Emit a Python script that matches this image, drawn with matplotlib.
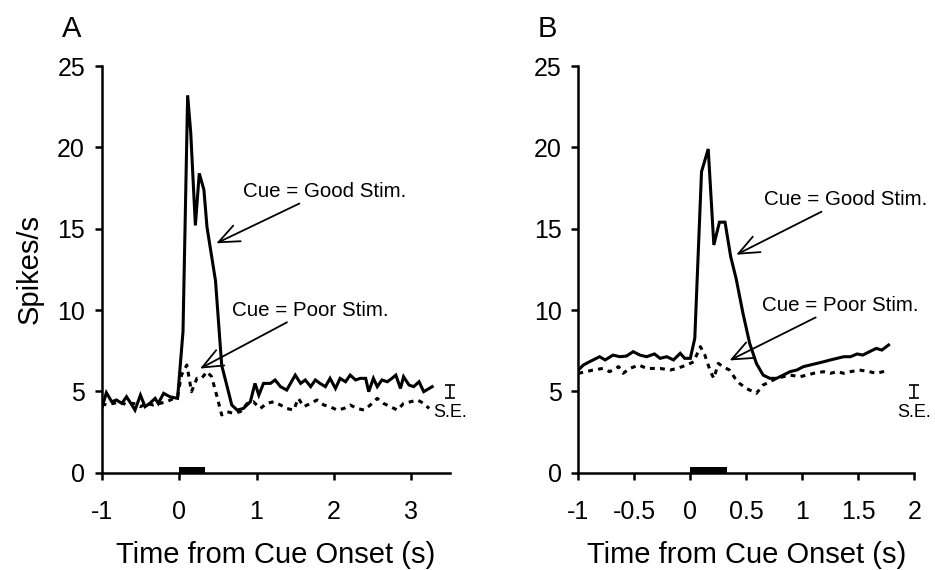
#!/usr/bin/python3
# coding: utf-8

import matplotlib
matplotlib.use('Agg')
import matplotlib.pyplot as plt

# ---- data ----
# panel A, x in s, y in spikes/s
good_a_t = [-1.00, -0.94, -0.87, -0.81, -0.74, -0.68, -0.61, -0.57, -0.50, -0.44, -0.38, -0.31,
            -0.27, -0.20, -0.12, -0.02, 0.05, 0.11, 0.15, 0.21, 0.26, 0.32, 0.36, 0.40, 0.47,
            0.55, 0.62, 0.68, 0.75, 0.83, 0.92, 0.98, 1.03, 1.09, 1.18, 1.24, 1.31, 1.39, 1.50,
            1.57, 1.63, 1.70, 1.76, 1.82, 1.89, 1.95, 2.02, 2.08, 2.15, 2.21, 2.28, 2.34, 2.41,
            2.45, 2.51, 2.56, 2.62, 2.69, 2.75, 2.80, 2.86, 2.90, 2.97, 3.03, 3.10, 3.16, 3.27]
good_a_v = [3.95, 4.92, 4.36, 4.47, 4.26, 4.67, 4.16, 3.85, 4.77, 4.06, 4.26, 4.57,
            4.26, 4.88, 4.67, 4.57, 8.67, 23.2, 20.9, 15.2, 18.4, 17.4, 15.1, 13.9, 11.8,
            6.6, 5.3, 4.16, 3.85, 3.95, 4.36, 5.49, 4.77, 5.49, 5.49, 5.70, 5.29, 5.08, 6.00,
            5.49, 5.70, 5.29, 5.70, 5.49, 5.29, 5.80, 5.18, 5.80, 5.59, 6.00, 5.70, 5.80, 5.80,
            4.98, 5.80, 5.29, 5.70, 5.59, 5.80, 6.00, 5.18, 5.90, 5.39, 5.29, 5.59, 4.98, 5.29]

poor_a_t = [-1.00, -0.94, -0.85, -0.76, -0.68, -0.59, -0.50, -0.42, -0.33, -0.25, -0.16, -0.07,
            -0.02, 0.03, 0.10, 0.16, 0.23, 0.29, 0.36, 0.42, 0.49, 0.55, 0.62, 0.70, 0.79,
            0.88, 0.96, 1.05, 1.13, 1.22, 1.31, 1.39, 1.48, 1.54, 1.61, 1.70, 1.78, 1.87, 1.95,
            2.04, 2.13, 2.21, 2.30, 2.39, 2.47, 2.56, 2.64, 2.73, 2.82, 2.90, 2.99, 3.08, 3.16, 3.23]
poor_a_v = [4.26, 4.16, 4.26, 4.36, 4.16, 4.26, 4.06, 4.26, 4.16, 4.26, 4.36, 4.57,
            4.67, 6.00, 6.62, 4.98, 5.80, 5.80, 6.21, 5.90, 4.67, 3.55, 3.75, 3.65, 3.75,
            4.26, 4.36, 3.95, 4.26, 4.36, 4.16, 3.95, 3.85, 4.57, 4.06, 4.26, 4.47, 4.16, 4.06,
            3.85, 3.95, 4.16, 3.95, 3.85, 4.16, 4.57, 4.26, 4.06, 3.85, 4.26, 4.36, 4.47, 4.26, 3.95]

# panel B
good_b_t = [-1.00, -0.955, -0.90, -0.81, -0.76, -0.69, -0.63, -0.57, -0.51, -0.45, -0.39, -0.32,
            -0.27, -0.21, -0.15, -0.09, -0.05, 0.00, 0.04, 0.10, 0.16, 0.21, 0.26, 0.31, 0.36,
            0.41, 0.47, 0.53, 0.59, 0.65, 0.71, 0.77, 0.83, 0.89, 0.95, 1.01, 1.07, 1.13, 1.19,
            1.25, 1.31, 1.37, 1.43, 1.49, 1.54, 1.60, 1.66, 1.71, 1.77]
good_b_v = [6.31, 6.62, 6.82, 7.13, 6.93, 7.23, 7.13, 7.17, 7.44, 7.23, 7.13, 7.30,
            7.03, 7.13, 6.93, 7.34, 7.03, 7.03, 8.26, 18.5, 19.9, 14.0, 15.4, 15.4, 13.3,
            11.9, 9.80, 7.95, 6.72, 6.00, 5.80, 5.80, 6.00, 6.21, 6.31, 6.52, 6.62, 6.72, 6.82,
            6.93, 7.03, 7.13, 7.13, 7.30, 7.23, 7.44, 7.64, 7.54, 7.85]

poor_b_t = [-1.00, -0.93, -0.87, -0.78, -0.72, -0.64, -0.60, -0.54, -0.46, -0.39, -0.32, -0.27,
            -0.18, -0.12, -0.03, 0.03, 0.09, 0.13, 0.18, 0.21, 0.25, 0.29, 0.35, 0.40, 0.44,
            0.50, 0.59, 0.65, 0.71, 0.77, 0.83, 0.89, 0.98, 1.04, 1.10, 1.19, 1.25, 1.31, 1.37,
            1.43, 1.51, 1.60, 1.66, 1.72, 1.77]
poor_b_v = [6.11, 6.21, 6.31, 6.41, 6.21, 6.52, 6.11, 6.41, 6.62, 6.41, 6.41, 6.41,
            6.31, 6.41, 6.62, 6.82, 7.75, 7.23, 6.21, 5.80, 6.72, 6.52, 6.31, 5.80, 5.49,
            5.18, 4.88, 5.39, 5.59, 5.80, 5.90, 6.00, 5.90, 6.00, 6.11, 6.21, 6.11, 6.21, 6.11,
            6.21, 6.31, 6.21, 6.11, 6.21, 6.31]

# cue presentation bar (s) and standard error of the mean
cue_start, cue_end = 0.0, 0.33
se_a, se_b = 0.4, 0.4

ticks_a = [-1, 0, 1, 2, 3]
ticks_b = [-1, -0.5, 0, 0.5, 1, 1.5, 2]
tick_labels_b = ['-1', '-0.5', '0', '0.5', '1', '1.5', '2']
yticks = [0, 5, 10, 15, 20, 25]

label_good = 'Cue = Good Stim.'
label_poor = 'Cue = Poor Stim.'

font = {'family': 'Liberation Sans', 'size': 18}
plt.rc('font', **font)
plt.rcParams['axes.unicode_minus'] = False


def plot_panel(ax, t_good, v_good, t_poor, v_poor, xmax, xticks, xlabels, se,
               good_txt, good_tip, poor_txt, poor_tip, letter):
    """ draw one PSTH panel """
    ax.plot(t_good, v_good, color='black', lw=2.2, solid_joinstyle='miter')
    ax.plot(t_poor, v_poor, color='black', lw=2.2, linestyle=(0, (1.6, 1.7)))

    # cue bar on the time axis
    ax.broken_barh([(cue_start, cue_end - cue_start)], (0, 0.38), facecolors='black')

    # labels with open arrows
    arr = dict(arrowstyle='->,head_length=1.0,head_width=0.42', color='black', lw=1.3,
               shrinkA=0, shrinkB=0)
    ax.annotate(label_good, xy=good_tip, xytext=good_txt, fontsize=14.8,
                ha='left', va='center', arrowprops=arr)
    ax.annotate(label_poor, xy=poor_tip, xytext=poor_txt, fontsize=14.8,
                ha='left', va='center', arrowprops=arr)

    # S.E. scale bar
    ax.errorbar([xmax], [5.0], yerr=[se], color='black', lw=1.2, capsize=3.5,
                capthick=1.2, clip_on=False)
    ax.text(xmax, 3.7, 'S.E.', fontsize=13, ha='center', va='center', clip_on=False)

    ax.set_xlim(-1, xmax)
    ax.set_ylim(0, 25)
    ax.set_xticks(xticks)
    ax.set_xticklabels(xlabels)
    ax.set_yticks(yticks)
    ax.spines['top'].set_visible(False)
    ax.spines['right'].set_visible(False)
    for s in ['left', 'bottom']:
        ax.spines[s].set_linewidth(1.8)
    ax.tick_params(direction='out', length=5, width=1.8, labelsize=18)
    ax.tick_params(axis='x', pad=15)
    ax.tick_params(axis='y', pad=7)
    ax.set_xlabel('Time from Cue Onset (s)', fontsize=21, labelpad=12)
    # panel letter, offset from the top of the y axis
    ax.annotate(letter, xy=(0, 1), xycoords='axes fraction', xytext=(-22, 27),
                textcoords='offset points', fontsize=21, ha='center', va='center')


fig = plt.figure(figsize=(9.35, 5.7), dpi=100)
ax_a = fig.add_axes([0.1088, 0.1707, 0.3725, 0.7135])
ax_b = fig.add_axes([0.6185, 0.1707, 0.3594, 0.7135])

plot_panel(ax_a, good_a_t, good_a_v, poor_a_t, poor_a_v, 3.5, ticks_a,
           [str(t) for t in ticks_a], se_a,
           (0.83, 17.3), (0.48, 14.1), (0.68, 10.0), (0.27, 6.4), 'A')
plot_panel(ax_b, good_b_t, good_b_v, poor_b_t, poor_b_v, 2.0, ticks_b,
           tick_labels_b, se_b,
           (0.66, 16.8), (0.41, 13.4), (0.64, 10.3), (0.35, 6.9), 'B')

ax_a.set_ylabel('Spikes/s', fontsize=21, labelpad=10)

fig.savefig('out.png', dpi=100)
